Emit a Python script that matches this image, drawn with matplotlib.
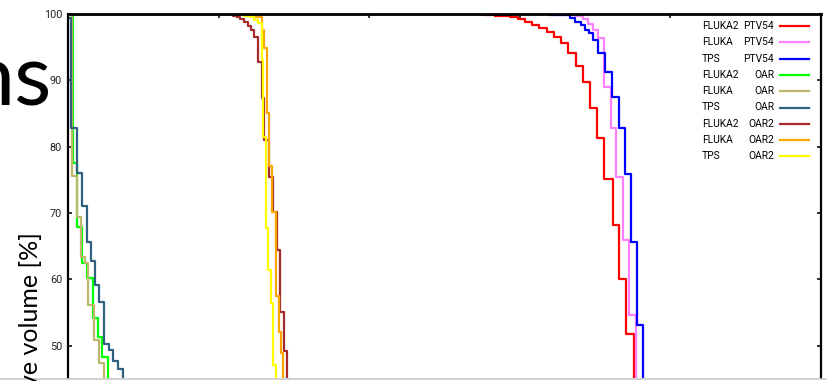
import matplotlib
matplotlib.use("Agg")
import matplotlib.pyplot as plt
from matplotlib.lines import Line2D

# ---------------- data (dose, relative volume %) ----------------
red_x = [0, 26.5, 27.58, 28.35, 29.35, 29.90, 30.35, 30.79, 31.30, 31.79, 32.29, 32.74,
         33.22, 33.73, 34.22, 34.66, 35.11, 35.61, 36.16, 36.62, 37.07, 37.56]
red_y = [100, 99.95, 99.85, 99.70, 99.50, 99.20, 98.84, 98.34, 97.84, 97.24, 96.49, 95.58,
         94.16, 92.20, 89.79, 85.78, 81.34, 75.11, 68.22, 60.08, 51.78, 44.0]

violet_x = [0, 33.0, 33.67, 34.20, 34.53, 34.86, 35.19, 35.56, 36.04, 36.42, 36.83, 37.27, 37.70]
violet_y = [100, 99.92, 99.70, 99.25, 98.49, 97.59, 96.33, 89.03, 82.76, 75.46, 65.91, 54.60, 44.0]

blue_x = [0, 32.0, 32.67, 33.33, 33.67, 34.04, 34.33, 34.62, 34.84, 35.21, 35.66, 36.12,
          36.59, 36.99, 37.36, 37.76, 38.16]
blue_y = [100, 99.92, 99.85, 99.35, 98.84, 98.34, 97.59, 97.09, 96.08, 94.12, 91.30, 87.53,
          82.76, 75.87, 65.61, 53.02, 44.0]

green_x = [0, 0.30, 0.60, 0.96, 1.29, 1.63, 1.96, 2.29, 2.66]
green_y = [100, 77.5, 67.9, 62.4, 60.2, 54.1, 51.3, 48.3, 44.0]

khaki_x = [0, 0.27, 0.58, 0.86, 1.13, 1.35, 1.70, 2.08, 2.39]
khaki_y = [100, 75.6, 69.4, 63.4, 62.4, 56.1, 50.8, 47.4, 44.0]

steel_x = [0, 0.03, 0.20, 0.62, 0.90, 1.28, 1.51, 1.81, 2.09, 2.40, 2.70, 3.02, 3.34, 3.67]
steel_y = [100, 99.4, 82.8, 76.0, 71.0, 65.6, 62.7, 59.2, 56.6, 50.2, 49.3, 47.7, 46.5, 44.0]

brown_x = [0, 10.96, 11.22, 11.45, 11.69, 11.92, 12.15, 12.38, 12.64, 12.86, 13.03, 13.33,
           13.59, 13.86, 14.08, 14.34, 14.56]
brown_y = [100, 99.77, 99.55, 99.25, 98.8, 98.2, 97.6, 96.6, 92.8, 87.3, 81.0, 75.4,
           70.2, 64.4, 55.1, 49.1, 44.0]

orange_x = [0, 12.42, 12.86, 13.01, 13.21, 13.37, 13.53, 13.78, 13.98, 14.14, 14.30]
orange_y = [100, 99.6, 97.6, 94.9, 85.0, 77.0, 70.1, 57.4, 52.1, 48.8, 44.0]

yellow_x = [0, 11.69, 12.08, 12.35, 12.62, 12.85, 12.98, 13.17, 13.30, 13.48, 13.63, 13.81]
yellow_y = [100, 99.77, 99.55, 99.17, 98.64, 93.1, 81.4, 67.7, 61.4, 56.4, 47.1, 44.0]

codes = ["FLUKA2", "FLUKA", "TPS", "FLUKA2", "FLUKA", "TPS", "FLUKA2", "FLUKA", "TPS"]
structures = ["PTV54", "PTV54", "PTV54", "OAR", "OAR", "OAR", "OAR2", "OAR2", "OAR2"]
colors = ["#ff0000", "#ff80ff", "#0000ff", "#00ff00", "#bdb76b", "#306080",
          "#a52a2a", "#ffa500", "#ffff00"]
series_x = [red_x, violet_x, blue_x, green_x, khaki_x, steel_x, brown_x, orange_x, yellow_x]
series_y = [red_y, violet_y, blue_y, green_y, khaki_y, steel_y, brown_y, orange_y, yellow_y]

x_ticks = [10, 20, 30, 40]
y_ticks = [50, 60, 70, 80, 90, 100]

# ---------------- figure ----------------
W, H = 827, 381
fig = plt.figure(figsize=(W / 100, H / 100), dpi=100)
narrow = ["Roboto", "DejaVu Sans"]


def fx(px):
    return px / W


def fy(py):
    return 1 - py / H


ax = fig.add_axes([fx(68), 3 / H, (821 - 68) / W, (378 - 14) / H])
for xs, ys, c in zip(series_x, series_y, colors):
    ax.step(xs, ys, where="post", color=c, lw=1.6)

ax.set_xlim(0, 50)
ax.set_ylim(45.1, 100)
ax.set_xticks(x_ticks)
ax.set_yticks(y_ticks)
ax.set_yticklabels([str(v) for v in y_ticks], family=narrow, fontsize=7.8, color="#222222")
ax.tick_params(axis="y", direction="in", length=2.6, width=1.1, pad=4.3,
               right=True, left=True, labelleft=True)
ax.tick_params(axis="x", direction="in", length=2.6, width=1.1, top=True, bottom=False,
               labelbottom=False, labeltop=False)
ax.spines["bottom"].set_visible(False)
for s in ["top", "left", "right"]:
    ax.spines[s].set_linewidth(1.6)
    ax.spines[s].set_zorder(3)
ax.spines["top"].set_linewidth(2.0)

# legend (gnuplot style: text then sample)
row_y0, row_dy = 26, 16.3
for i, (code, st, c) in enumerate(zip(codes, structures, colors)):
    yy = fy(row_y0 + i * row_dy)
    fig.text(fx(702), yy, code, family=narrow, fontsize=7.4, ha="left", va="center")
    fig.text(fx(774), yy, st, family=narrow, fontsize=7.4, ha="right", va="center")
    fig.add_artist(Line2D([fx(780), fx(809)], [yy, yy], color=c, lw=1.6))

# slide fragments
fig.text(fx(52), fy(106), "ns", family=["Lato", "DejaVu Sans"],
         fontsize=62, ha="right", va="baseline", color="black")
fig.text(fx(38), fy(232), "ve volume [%]", family=["Lato", "DejaVu Sans"], fontsize=18,
         rotation=90, rotation_mode="anchor", ha="right", va="baseline", color="black")
fig.add_artist(Line2D([0, 1], [fy(378.5), fy(378.5)], color="#c8c8c8", lw=1.2))

fig.savefig("out.png", dpi=100)
